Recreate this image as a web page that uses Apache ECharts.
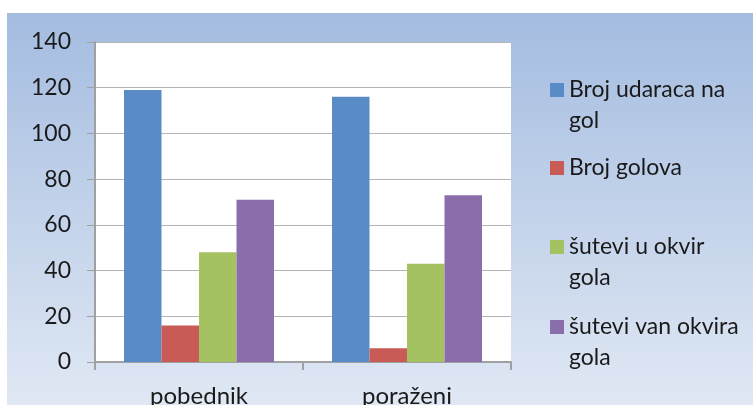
<!DOCTYPE html>
<html>
<head>
<meta charset="utf-8">
<script src="https://cdn.jsdelivr.net/npm/echarts@6/dist/echarts.min.js"></script>
<style>
  html, body { margin: 0; padding: 0; background: #fff; }
  #chart { position: absolute; left: 7px; top: 13px; width: 746px; height: 392px; }
</style>
</head>
<body>
<div id="chart"></div>
<script>
// podaci
const categories = ["pobednik", "poraženi"];
const seriesNames = ["Broj udaraca na gol", "Broj golova", "šutevi u okvir gola", "šutevi van okvira gola"];
const udarci = [119, 116];
const golovi = [16, 6];
const uOkvir = [48, 43];
const vanOkvira = [71, 73];
// tekst legende u dva reda kao u originalu
const legendLabels = ["Broj udaraca na\ngol", "Broj golova", "šutevi u okvir\ngola", "šutevi van okvira\ngola"];

const colors = ["#598bc6", "#c95b57", "#a5c262", "#8a6eab"];
const font = "Lato, 'Liberation Sans', sans-serif";

let myChart = echarts.init(document.getElementById("chart"));

// svaka stavka legende posebno, da razmak bude ravnomeran
const legendTops = [43.5 - 13, 152.5 - 13, 200.5 - 13, 280.5 - 13];
const legends = seriesNames.map((name, i) => {
  const twoLines = legendLabels[i].indexOf("\n") >= 0;
  return {
    left: 543,
    top: legendTops[i],
    padding: 0,
    orient: "vertical",
    itemWidth: 14,
    itemHeight: 14,
    icon: "rect",
    selectedMode: false,
    data: [name],
    // prazan red iznad, da kvadratic stoji uz prvi red teksta
    formatter: () => (twoLines ? "\u00a0\n" : "") + legendLabels[i],
    textStyle: {
      fontFamily: font,
      fontSize: 23,
      color: "#1a1a1a",
      lineHeight: 31
    }
  };
});

const dataSets = [udarci, golovi, uOkvir, vanOkvira];

let option = {
  backgroundColor: {
    type: "linear",
    x: 0, y: 0, x2: 0, y2: 1,
    colorStops: [
      { offset: 0, color: "#a4bce0" },
      { offset: 1, color: "#e0e8f4" }
    ]
  },
  animation: false,
  color: colors,
  legend: legends,
  grid: {
    left: 88,
    top: 29,
    right: 242,
    bottom: 43,
    outerBoundsMode: "none",
    containLabel: false,
    show: true,
    backgroundColor: "#ffffff",
    borderWidth: 0
  },
  xAxis: {
    type: "category",
    data: categories,
    boundaryGap: true,
    axisLine: { show: true, lineStyle: { color: "#a0a0a0", width: 2 } },
    axisTick: { show: true, length: 8, lineStyle: { color: "#a0a0a0", width: 2 } },
    axisLabel: { fontFamily: font, fontSize: 24, color: "#1a1a1a", margin: 22 }
  },
  yAxis: {
    type: "value",
    min: 0,
    max: 140,
    interval: 20,
    axisLine: { show: true, lineStyle: { color: "#a0a0a0", width: 2 } },
    axisTick: { show: true, length: 8, lineStyle: { color: "#a0a0a0", width: 1 } },
    splitLine: { show: true, lineStyle: { color: "#b4b4b4", width: 1 } },
    axisLabel: { fontFamily: font, fontSize: 23, color: "#1a1a1a", margin: 24 }
  },
  series: seriesNames.map((name, i) => ({
    name: name,
    type: "bar",
    barWidth: 37.5,
    barGap: "0%",
    data: dataSets[i]
  }))
};
myChart.setOption(option);
</script>
</body>
</html>
